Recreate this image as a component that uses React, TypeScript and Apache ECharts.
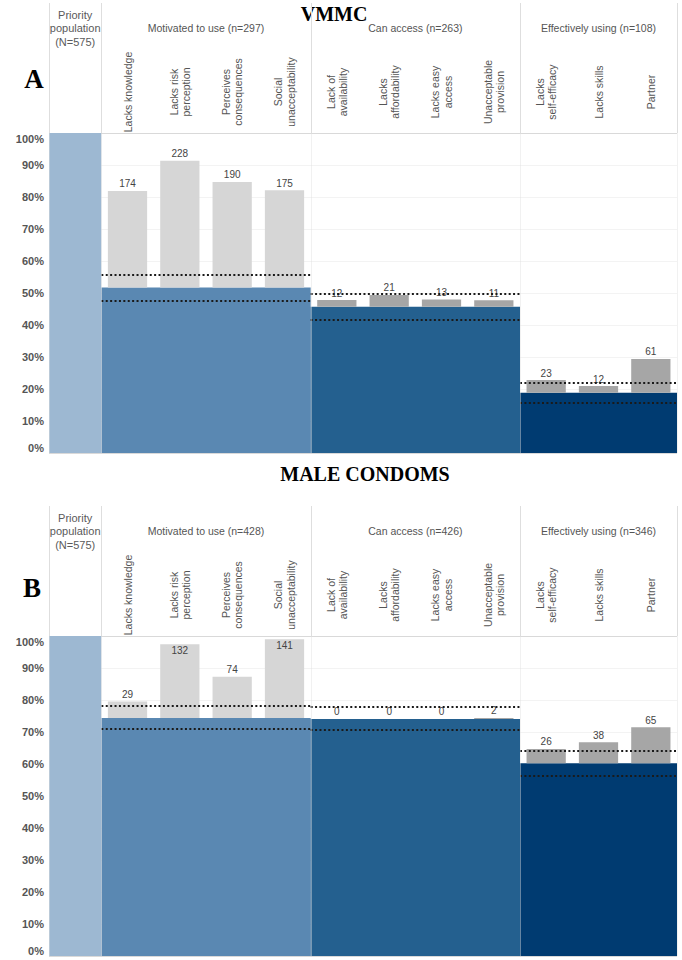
import React, { useEffect, useRef } from 'react';
import * as echarts from 'echarts';

// ---------- data ----------
const columnLabels = [
  '',
  'Lacks knowledge',
  'Lacks risk\nperception',
  'Perceives\nconsequences',
  'Social\nunacceptability',
  'Lack of\navailability',
  'Lacks\naffordability',
  'Lacks easy\naccess',
  'Unacceptable\nprovision',
  'Lacks\nself-efficacy',
  'Lacks skills',
  'Partner',
];
const stageNames = ['Priority\npopulation\n(N=575)', 'Motivated to use', 'Can access', 'Effectively using'];
const stageFirstCol = [0, 1, 5, 9];
const stageLastCol = [0, 4, 8, 11];
const barrierStage = [1, 1, 1, 1, 2, 2, 2, 2, 3, 3, 3];
const yTickValues = [0, 10, 20, 30, 40, 50, 60, 70, 80, 90, 100];

// Panel A: VMMC
const vmmcStageN = [575, 297, 263, 108];
const vmmcStagePct = [100, 51.7, 45.7, 18.8];
const vmmcCiLow = [47.6, 41.7, 15.6];
const vmmcCiHigh = [55.7, 49.8, 22.0];
const vmmcBarrierCounts = [174, 228, 190, 175, 12, 21, 13, 11, 23, 12, 61];
const vmmcBarrierTopPct = [81.9, 91.3, 84.7, 82.1, 47.8, 49.4, 48.0, 47.7, 22.8, 20.9, 29.4];

// Panel B: Male condoms
const condomStageN = [575, 428, 426, 346];
const condomStagePct = [100, 74.4, 74.1, 60.2];
const condomCiLow = [70.8, 70.5, 56.2];
const condomCiHigh = [78.0, 77.7, 64.2];
const condomBarrierCounts = [29, 132, 74, 141, 0, 0, 0, 2, 26, 38, 65];
const condomBarrierTopPct = [79.5, 97.4, 87.3, 99.0, 74.1, 74.1, 74.1, 74.4, 64.7, 66.8, 71.5];

// ---------- styles ----------
const stageColors = ['#9db8d2', '#5a88b2', '#24608f', '#003b71'];
const barrierColors = ['#d6d6d6', '#d6d6d6', '#a6a6a6', '#a6a6a6'];
const SANS = '"Liberation Sans", Arial, sans-serif';
const SERIF = '"Liberation Serif", "Times New Roman", serif';
const TEXT_GRAY = '#555555';

function txt(x: number, y: number, text: string, o: any) {
  return {
    type: 'text',
    x,
    y,
    style: {
      text,
      fill: o.fill || TEXT_GRAY,
      fontSize: o.fontSize || 10,
      fontFamily: o.fontFamily || SANS,
      fontWeight: o.fontWeight || 'normal',
      lineHeight: o.lineHeight,
      align: 'center',
      verticalAlign: o.verticalAlign || 'middle',
      textAlign: 'center',
      textVerticalAlign: o.verticalAlign || 'middle',
    },
  };
}

function panelSeries(
  p: number,
  stageN: number[],
  stagePct: number[],
  ciLow: number[],
  ciHigh: number[],
  counts: number[],
  tops: number[]
) {
  const base = {
    type: 'custom',
    xAxisIndex: p,
    yAxisIndex: p,
    silent: true,
    z: 2,
    data: stagePct.map((v, s) => [stageFirstCol[s], v, stageLastCol[s], s]),
    renderItem: (_params: any, api: any) => {
      const c0 = api.value(0);
      const v = api.value(1);
      const c1 = api.value(2);
      const s = api.value(3);
      const bw = api.size([1, 0])[0];
      const a = api.coord([c0, 0]);
      const b = api.coord([c1, v]);
      return {
        type: 'rect',
        shape: { x: a[0] - bw / 2, y: b[1], width: b[0] - a[0] + bw, height: a[1] - b[1] },
        style: { fill: stageColors[s] },
      };
    },
  };

  const barriers = {
    type: 'custom',
    xAxisIndex: p,
    yAxisIndex: p,
    silent: true,
    z: 3,
    data: counts.map((c, i) => [i + 1, tops[i], stagePct[barrierStage[i]], c, barrierStage[i]]),
    renderItem: (_params: any, api: any) => {
      const col = api.value(0);
      const top = api.value(1);
      const bse = api.value(2);
      const c = api.value(3);
      const s = api.value(4);
      const bw = api.size([1, 0])[0];
      const t = api.coord([col, top]);
      const b = api.coord([col, bse]);
      const plotTop = api.coord([col, 100])[1];
      const w = bw * 0.75;
      const inside = t[1] - 15 < plotTop;
      return {
        type: 'group',
        children: [
          {
            type: 'rect',
            shape: { x: t[0] - w / 2, y: t[1], width: w, height: Math.max(0, b[1] - t[1]) },
            style: { fill: barrierColors[s] },
          },
          inside
            ? txt(t[0], t[1] + 1, String(c), { fill: '#444444', fontSize: 10, verticalAlign: 'top' })
            : txt(t[0], t[1] - 2, String(c), { fill: '#444444', fontSize: 10, verticalAlign: 'bottom' }),
        ],
      };
    },
  };

  const ci = {
    type: 'custom',
    xAxisIndex: p,
    yAxisIndex: p,
    silent: true,
    z: 4,
    data: ciLow.map((lo, k) => [stageFirstCol[k + 1], lo, stageLastCol[k + 1], ciHigh[k]]),
    renderItem: (_params: any, api: any) => {
      const c0 = api.value(0);
      const lo = api.value(1);
      const c1 = api.value(2);
      const hi = api.value(3);
      const bw = api.size([1, 0])[0];
      const x0 = api.coord([c0, 0])[0] - bw / 2;
      const x1 = api.coord([c1, 0])[0] + bw / 2;
      const yl = Math.round(api.coord([c0, lo])[1]);
      const yh = Math.round(api.coord([c0, hi])[1]);
      const ls = { stroke: '#1a1a1a', lineWidth: 2, lineDash: [2, 2.4] };
      return {
        type: 'group',
        children: [
          { type: 'line', shape: { x1: x0, y1: yl, x2: x1, y2: yl }, style: ls },
          { type: 'line', shape: { x1: x0, y1: yh, x2: x1, y2: yh }, style: ls },
        ],
      };
    },
  };

  const header = {
    type: 'custom',
    xAxisIndex: p,
    yAxisIndex: p,
    silent: true,
    clip: false,
    z: 5,
    data: stageN.map((n, s) => [stageFirstCol[s], 100, stageLastCol[s], s, n]),
    renderItem: (_params: any, api: any) => {
      const c0 = api.value(0);
      const c1 = api.value(2);
      const s = api.value(3);
      const n = api.value(4);
      const a = api.coord([c0, 100]);
      const b = api.coord([c1, 100]);
      const cx = (a[0] + b[0]) / 2;
      const label = s === 0 ? stageNames[0] : `${stageNames[s]} (n=${n})`;
      return txt(cx, a[1] - 105, label, {
        fontSize: s === 0 ? 11 : 10.5,
        lineHeight: 13.5,
        fill: s === 0 ? '#5a5a5a' : TEXT_GRAY,
      });
    },
  };

  const separators = {
    type: 'custom',
    xAxisIndex: p,
    yAxisIndex: p,
    silent: true,
    clip: false,
    z: 6,
    data: [
      [0, 0, -0.5],
      [1, 0, -0.5],
      [5, 0, -0.5],
      [9, 0, -0.5],
      [11, 0, 0.5],
    ],
    renderItem: (_params: any, api: any) => {
      const col = api.value(0);
      const side = api.value(2);
      const bw = api.size([1, 0])[0];
      const top = api.coord([col, 100]);
      const bot = api.coord([col, 0]);
      const x = Math.round(top[0] + side * bw) + 0.5;
      return {
        type: 'group',
        children: [
          {
            type: 'line',
            shape: { x1: x, y1: top[1] - 130, x2: x, y2: top[1] },
            style: { stroke: '#dedede', lineWidth: 1 },
          },
          {
            type: 'line',
            shape: { x1: x, y1: top[1], x2: x, y2: bot[1] },
            style: { stroke: 'rgba(225,225,225,0.45)', lineWidth: 1 },
          },
        ],
      };
    },
  };

  return [base, barriers, ci, header, separators];
}

export default function App() {
  const ref = useRef<HTMLDivElement>(null);

  useEffect(() => {
    if (!ref.current) return;
    const chart = echarts.init(ref.current, undefined, { renderer: 'svg' });

    const gridlineColors = yTickValues.map((v) => (v === 0 || v === 100 ? '#d9d9d9' : '#f3f3f3'));

    const xAxisFor = (gi: number) => ({
      type: 'category',
      gridIndex: gi,
      position: 'top',
      data: columnLabels,
      axisLine: { show: false },
      axisTick: { show: false },
      splitLine: { show: false },
      axisLabel: {
        interval: 0,
        rotate: 90,
        align: 'center',
        verticalAlign: 'middle',
        margin: 41,
        fontSize: 10.5,
        lineHeight: 12.5,
        color: TEXT_GRAY,
        fontFamily: SANS,
      },
    });

    const yAxisFor = (gi: number) => ({
      type: 'value',
      gridIndex: gi,
      min: 0,
      max: 100,
      interval: 10,
      axisLine: { show: false },
      axisTick: { show: false },
      splitLine: { show: true, lineStyle: { color: gridlineColors, width: 1 } },
      axisLabel: {
        formatter: '{value}%',
        margin: 5,
        fontSize: 11,
        fontWeight: 'bold',
        color: TEXT_GRAY,
        fontFamily: SANS,
        verticalAlignMinLabel: 'bottom',
        verticalAlignMaxLabel: 'top',
      },
    });

    chart.setOption({
      animation: false,
      backgroundColor: '#ffffff',
      grid: [
        { left: 49, width: 628, top: 133, height: 320 },
        { left: 49, width: 628, top: 636, height: 320 },
      ],
      xAxis: [xAxisFor(0), xAxisFor(1)],
      yAxis: [yAxisFor(0), yAxisFor(1)],
      graphic: [
        txt(334, 14, 'VMMC', { fill: '#000', fontSize: 20, fontWeight: 'bold', fontFamily: SERIF }),
        txt(34, 79, 'A', { fill: '#000', fontSize: 27, fontWeight: 'bold', fontFamily: SERIF }),
        txt(365, 474, 'MALE CONDOMS', { fill: '#000', fontSize: 20, fontWeight: 'bold', fontFamily: SERIF }),
        txt(32, 588, 'B', { fill: '#000', fontSize: 27, fontWeight: 'bold', fontFamily: SERIF }),
      ],
      series: [
        ...panelSeries(0, vmmcStageN, vmmcStagePct, vmmcCiLow, vmmcCiHigh, vmmcBarrierCounts, vmmcBarrierTopPct),
        ...panelSeries(1, condomStageN, condomStagePct, condomCiLow, condomCiHigh, condomBarrierCounts, condomBarrierTopPct),
      ],
    });

    return () => chart.dispose();
  }, []);

  return (
    <div
      ref={ref}
      style={{ position: 'absolute', left: 0, top: 0, width: 682, height: 960, background: '#fff' }}
    />
  );
}
